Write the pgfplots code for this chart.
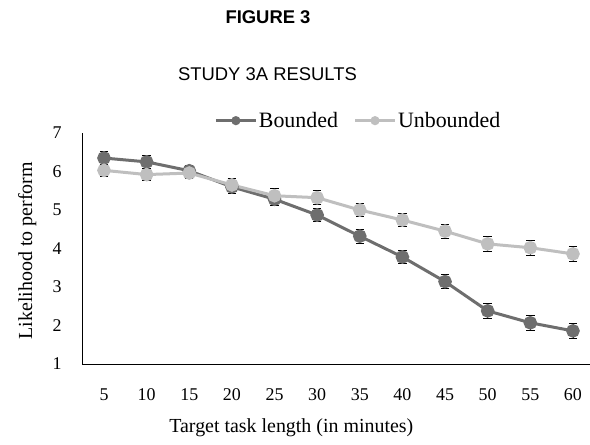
\documentclass[border=0pt]{standalone}
\usepackage{fontspec}
\setmainfont{Liberation Serif}
\newfontfamily\hel{Liberation Sans}
\usepackage{pgfplots}
\pgfplotsset{compat=1.18}
\definecolor{bnd}{HTML}{6E6E6E}
\definecolor{unb}{HTML}{BFBFBF}
\begin{document}
\begin{tikzpicture}
\useasboundingbox (0,0) rectangle (590bp,445bp);
\node[font=\hel\fontsize{18.5}{22}\selectfont\bfseries] at (268bp,427.5bp) {FIGURE 3};
\node[font=\hel\fontsize{18.5}{22}\selectfont] at (267.5bp,370.5bp) {STUDY 3A RESULTS};
\begin{axis}[
  at={(82bp,81bp)}, anchor=south west,
  scale only axis, width=508bp, height=231bp,
  xmin=2.42, xmax=62, ymin=1, ymax=7,
  axis x line=bottom, axis y line=left,
  axis line style={-, black, line width=1bp},
  xtick={5,10,...,60}, ytick={1,...,7},
  major tick length=0pt,
  /pgf/number format/assume math mode=true,
  tick label style={font=\fontsize{18}{20}\selectfont, black},
  xticklabel style={yshift=-21bp},
  yticklabel style={xshift=-17bp},
  xlabel={Target task length (in minutes)},
  ylabel={Likelihood to perform},
  label style={font=\fontsize{20}{24}\selectfont},
  xlabel style={at={(axis description cs:0.412,-0.277)}, anchor=center},
  ylabel style={at={(axis description cs:-0.108,0.49)}, anchor=center},
  legend style={at={(axis description cs:0.5435,1.0535)}, anchor=center, draw=none, fill=none,
    font=\fontsize{22}{24}\selectfont, legend columns=2,
    /tikz/every even column/.append style={column sep=14bp},
    nodes={inner sep=1.5bp},
    inner sep=0pt},
  legend image code/.code={\draw[#1, mark repeat=2, mark phase=2, mark size=3bp] plot coordinates {(0bp,0bp) (20bp,0bp) (40bp,0bp)};},
  error bars/y dir=both, error bars/y explicit,
  error bars/error bar style={black, line width=0.9bp},
  error bars/error mark options={rotate=90, mark size=4.2bp, black, line width=0.9bp},
]
\addplot[color=bnd, line width=3bp, mark=*, mark size=5.3bp, mark options={fill=bnd, draw=bnd}]
  coordinates {
  (5,6.35) +- (0,0.16)
  (10,6.25) +- (0,0.16)
  (15,6.02) +- (0,0.14)
  (20,5.60) +- (0,0.16)
  (25,5.28) +- (0,0.16)
  (30,4.87) +- (0,0.17)
  (35,4.32) +- (0,0.18)
  (40,3.78) +- (0,0.18)
  (45,3.14) +- (0,0.18)
  (50,2.38) +- (0,0.19)
  (55,2.07) +- (0,0.19)
  (60,1.86) +- (0,0.2)
  };
\addlegendentry{Bounded}
\addplot[color=unb, line width=3bp, mark=*, mark size=5.3bp, mark options={fill=unb, draw=unb}]
  coordinates {
  (5,6.03) +- (0,0.16)
  (10,5.92) +- (0,0.16)
  (15,5.96) +- (0,0.15)
  (20,5.65) +- (0,0.18)
  (25,5.37) +- (0,0.18)
  (30,5.32) +- (0,0.18)
  (35,5.00) +- (0,0.18)
  (40,4.74) +- (0,0.18)
  (45,4.45) +- (0,0.18)
  (50,4.12) +- (0,0.19)
  (55,4.02) +- (0,0.19)
  (60,3.86) +- (0,0.19)
  };
\addlegendentry{Unbounded}
\end{axis}
\end{tikzpicture}
\end{document}
